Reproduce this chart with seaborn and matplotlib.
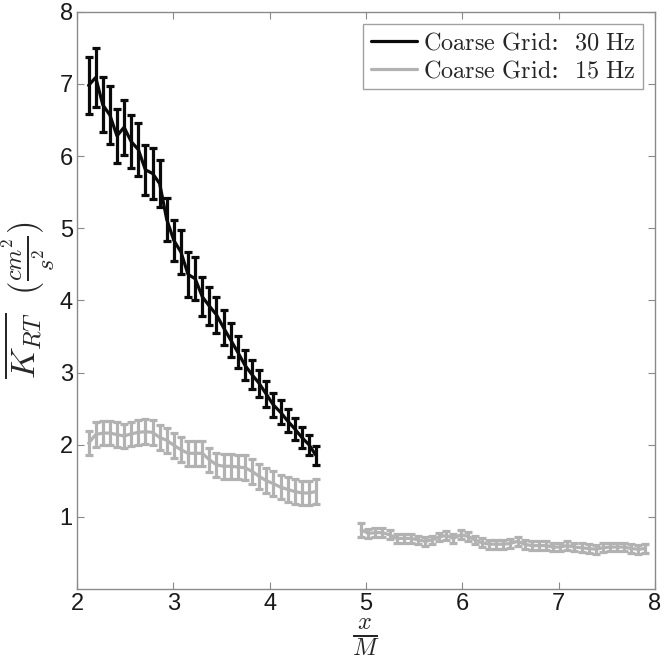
import matplotlib
matplotlib.use("Agg")
import matplotlib.pyplot as plt
import seaborn as sns
import pandas as pd

# ---- data ----
x_near = [2.120, 2.194, 2.268, 2.341, 2.415, 2.489, 2.563, 2.637, 2.710, 2.784,
          2.858, 2.932, 3.006, 3.079, 3.153, 3.227, 3.301, 3.375, 3.448, 3.522,
          3.596, 3.670, 3.744, 3.817, 3.891, 3.965, 4.039, 4.113, 4.186, 4.260,
          4.334, 4.408, 4.482]
k30 = [6.98, 7.09, 6.71, 6.57, 6.28, 6.40, 6.20, 6.09, 5.81, 5.76,
       5.62, 5.12, 4.83, 4.67, 4.36, 4.30, 4.05, 3.92, 3.80, 3.62,
       3.45, 3.28, 3.10, 2.97, 2.85, 2.70, 2.55, 2.45, 2.33, 2.22,
       2.10, 2.00, 1.85]
k30_err = [0.39, 0.41, 0.38, 0.40, 0.37, 0.38, 0.37, 0.37, 0.35, 0.35,
           0.33, 0.30, 0.28, 0.30, 0.31, 0.30, 0.27, 0.26, 0.25, 0.24,
           0.23, 0.22, 0.21, 0.20, 0.19, 0.18, 0.17, 0.17, 0.16, 0.15,
           0.15, 0.14, 0.13]
k15a = [2.02, 2.14, 2.16, 2.16, 2.14, 2.12, 2.15, 2.17, 2.18, 2.17,
        2.10, 2.06, 1.99, 1.93, 1.88, 1.88, 1.88, 1.79, 1.72, 1.70,
        1.70, 1.69, 1.68, 1.63, 1.56, 1.50, 1.46, 1.41, 1.38, 1.35,
        1.33, 1.33, 1.35]
k15a_err = [0.17] * 33
x_far = [4.950, 5.024, 5.098, 5.171, 5.245, 5.319, 5.393, 5.467, 5.540, 5.614,
         5.688, 5.762, 5.836, 5.909, 5.983, 6.057, 6.131, 6.205, 6.278, 6.352,
         6.426, 6.500, 6.574, 6.647, 6.721, 6.795, 6.869, 6.943, 7.016, 7.090,
         7.164, 7.238, 7.312, 7.385, 7.459, 7.533, 7.607, 7.681, 7.754, 7.828,
         7.902]
k15b = [0.82, 0.77, 0.78, 0.78, 0.75, 0.70, 0.70, 0.70, 0.68, 0.66,
        0.68, 0.72, 0.74, 0.70, 0.75, 0.73, 0.68, 0.64, 0.62, 0.62,
        0.62, 0.63, 0.66, 0.62, 0.60, 0.60, 0.60, 0.58, 0.58, 0.60,
        0.58, 0.57, 0.56, 0.55, 0.57, 0.58, 0.58, 0.58, 0.56, 0.55,
        0.56]
k15b_err = [0.10] + [0.06] * 40

labels = ["Coarse Grid: 30 Hz", "Coarse Grid: 15 Hz"]
x_ticks = [2, 3, 4, 5, 6, 7, 8]
y_ticks = [1, 2, 3, 4, 5, 6, 7, 8]

# ---- style ----
sns.set_style("ticks")
plt.rcParams["font.family"] = ["Liberation Sans", "DejaVu Sans"]
plt.rcParams["mathtext.fontset"] = "cm"

BLACK = "#0a0a0a"
GREY = "#b2b2b2"
SPINE = "#8a8a8a"
LW = 2.3

fig = plt.figure(figsize=(6.65, 6.58), dpi=100)
ax = fig.add_axes([0.1158, 0.105, 0.869, 0.877])

def draw(x, y, e, color, label):
    df = pd.DataFrame({"x": x, "y": y})
    sns.lineplot(data=df, x="x", y="y", color=color, lw=LW, ax=ax,
                 estimator=None, sort=False, label=label)
    ax.errorbar(x, y, yerr=e, fmt="none", ecolor=color, elinewidth=LW,
                capsize=2.6, capthick=LW)

draw(x_near, k15a, k15a_err, GREY, labels[1])
draw(x_far, k15b, k15b_err, GREY, None)
draw(x_near, k30, k30_err, BLACK, labels[0])

ax.set_xlim(2, 8)
ax.set_ylim(0, 8)
ax.set_xticks(x_ticks)
ax.set_yticks(y_ticks)
ax.tick_params(direction="in", length=5, width=0.8, color=SPINE,
               labelsize=17, labelcolor="#1a1a1a", top=True, right=True, pad=3)
for s in ax.spines.values():
    s.set_color(SPINE)
    s.set_linewidth(1.0)

ax.set_xlabel(r"$\frac{x}{M}$", fontsize=25, labelpad=1)
ax.set_ylabel(r"$\overline{K_{RT}}\ \ (\frac{cm^2}{s^2})$", fontsize=25, labelpad=2)

handles, labs = ax.get_legend_handles_labels()
order = [labs.index(labels[0]), labs.index(labels[1])]
leg = ax.legend([handles[i] for i in order],
                [r"$\mathrm{Coarse\ Grid}$:  $\mathrm{30\ Hz}$",
                 r"$\mathrm{Coarse\ Grid}$:  $\mathrm{15\ Hz}$"],
                loc="upper right", frameon=True, fancybox=False, fontsize=17.5,
                edgecolor=SPINE, handlelength=1.9, handletextpad=0.25,
                borderpad=0.3, labelspacing=0.2, borderaxespad=0.5)
leg.get_frame().set_linewidth(1.0)
for t in leg.get_texts():
    t.set_fontfamily(["DejaVu Serif"])

fig.savefig("out.png", dpi=100)
